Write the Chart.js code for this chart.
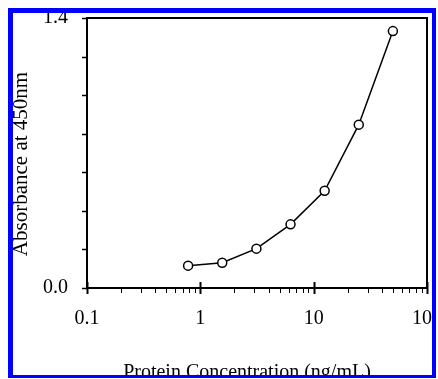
<!DOCTYPE html>
<html>
<head>
<meta charset="utf-8">
<script src="https://cdn.jsdelivr.net/npm/chart.js@4"></script>
<style>
  html, body { margin: 0; padding: 0; background: #fff; }
  canvas { display: block; }
</style>
</head>
<body>
<canvas id="chart" width="438" height="379"></canvas>
<script>
// protein concentration (ng/mL) and absorbance
const concentrations = [0.78, 1.56, 3.125, 6.25, 12.5, 25, 50]
const absorbance = [0.116, 0.131, 0.204, 0.330, 0.504, 0.847, 1.332]

const xMajorTicks = [0.1, 1, 10, 100]
const xTickLabels = ['0.1', '1', '10', '100']
const yLabelValues = [0, 1.4]
const yTickLabels = ['0.0', '1.4']

const xTitle = 'Protein Concentration (ng/mL)'
const yTitle = 'Absorbance at 450nm'

const serif = "'Liberation Serif', 'Times New Roman', serif"

// frame, tick marks, axis titles and the blue border
const decorations = {
    id: 'decorations',
    beforeDatasetsDraw(chart) {
        const {ctx, chartArea: a, scales: {x, y}} = chart
        ctx.save()
        ctx.strokeStyle = '#000'
        ctx.lineWidth = 2
        ctx.strokeRect(a.left, a.top, a.right - a.left, a.bottom - a.top)

        // y ticks, outward
        ctx.lineWidth = 1.5
        y.ticks.forEach(t => {
            const py = Math.round(y.getPixelForValue(t.value)) + 0.5
            ctx.beginPath()
            ctx.moveTo(a.left - 5, py)
            ctx.lineTo(a.left, py)
            ctx.stroke()
        })

        // x major ticks cross the axis, minor ones hang below
        xMajorTicks.forEach(v => {
            const px = Math.round(x.getPixelForValue(v)) + 0.5
            ctx.lineWidth = 2
            ctx.beginPath()
            ctx.moveTo(px, a.bottom - 6)
            ctx.lineTo(px, a.bottom + 6)
            ctx.stroke()
        })
        ctx.lineWidth = 1
        for (let d = 0; d < xMajorTicks.length - 1; d++) {
            for (let m = 2; m <= 9; m++) {
                const px = Math.round(x.getPixelForValue(xMajorTicks[d] * m)) + 0.5
                ctx.beginPath()
                ctx.moveTo(px, a.bottom)
                ctx.lineTo(px, a.bottom + 5)
                ctx.stroke()
            }
        }
        ctx.restore()
    },
    afterDraw(chart) {
        const {ctx, width, height} = chart
        ctx.save()
        ctx.fillStyle = '#000'
        ctx.textAlign = 'center'
        ctx.textBaseline = 'alphabetic'
        ctx.font = '20px ' + serif
        ctx.fillText(xTitle, 247, 378)

        ctx.translate(27, 164)
        ctx.rotate(-Math.PI / 2)
        ctx.font = '21px ' + serif
        ctx.fillText(yTitle, 0, 0)
        ctx.restore()

        ctx.save()
        ctx.fillStyle = '#0000ff'
        ctx.fillRect(8, 8, 428, 5)
        ctx.fillRect(8, 8, 5, height - 8)
        ctx.fillRect(432, 8, 4, height - 8)
        ctx.fillRect(8, 375, 428, 3)
        ctx.fillStyle = '#fff'
        ctx.fillRect(436, 0, width - 436, height)
        ctx.fillRect(0, 378, width, height - 378)
        ctx.restore()
    }
}

const chart = new Chart(
    document.getElementById('chart').getContext('2d'), {
        type: 'line',
        data: {
            datasets: [{
                data: concentrations.map((c, i) => ({x: c, y: absorbance[i]})),
                borderColor: '#000',
                borderWidth: 1.5,
                tension: 0,
                pointRadius: 4.5,
                pointBorderWidth: 1.5,
                pointBackgroundColor: '#fff',
                pointBorderColor: '#000',
            }]
        },
        plugins: [decorations],
        options: {
            responsive: false,
            animation: false,
            layout: {
                padding: {left: 0, top: 18, right: 11, bottom: 0}
            },
            plugins: {
                legend: {display: false},
                tooltip: {enabled: false},
            },
            scales: {
                x: {
                    type: 'logarithmic',
                    min: 0.1,
                    max: 100,
                    grid: {display: false, drawTicks: false},
                    border: {display: false},
                    afterBuildTicks: scale => {
                        scale.ticks = xMajorTicks.map(v => ({value: v}))
                    },
                    afterFit: scale => {
                        scale.height = 91
                        scale.paddingLeft = 0
                        scale.paddingRight = 0
                    },
                    ticks: {
                        autoSkip: false,
                        maxRotation: 0,
                        padding: 19,
                        color: '#000',
                        font: {family: serif, size: 20},
                        callback: (value, index) => xTickLabels[index],
                    },
                },
                y: {
                    min: 0,
                    max: 1.4,
                    grid: {display: false, drawTicks: false},
                    border: {display: false},
                    afterFit: scale => {
                        scale.width = 87
                        scale.paddingTop = 0
                        scale.paddingBottom = 0
                    },
                    ticks: {
                        stepSize: 0.2,
                        autoSkip: false,
                        padding: 19,
                        color: '#000',
                        font: {family: serif, size: 20},
                        callback: value => {
                            const i = yLabelValues.findIndex(v => Math.abs(v - value) < 1e-6)
                            return i >= 0 ? yTickLabels[i] : ''
                        },
                    },
                },
            },
        }
    }
)
</script>
</body>
</html>
